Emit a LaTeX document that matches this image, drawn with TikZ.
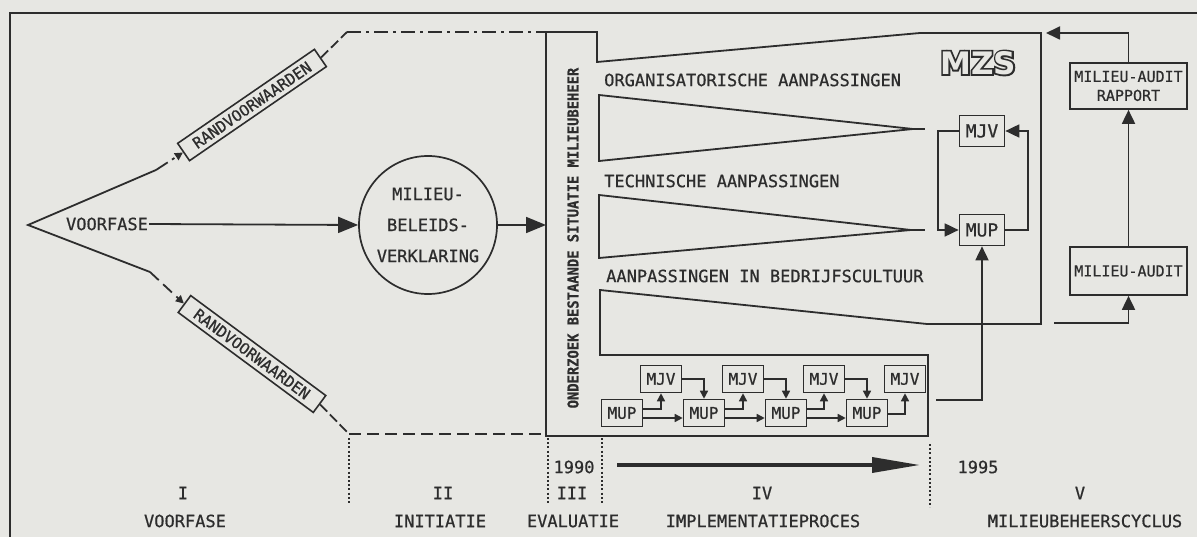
\documentclass[tikz,border=0pt]{standalone}
\usepackage{fontspec}
\setmainfont{DejaVu Sans Mono}[FakeBold=0.7]
\newfontfamily\mzsinner{DejaVu Sans Bold}
\newfontfamily\mzsouter{DejaVu Sans Bold}[FakeBold=11]
\usetikzlibrary{arrows.meta,calc}
\definecolor{bg}{RGB}{231,231,227}
\definecolor{ink}{RGB}{45,45,45}
\begin{document}
\begin{tikzpicture}[x=1pt,y=-1pt,
  ln/.style={draw=ink,line width=1.8pt},
  thinln/.style={draw=ink,line width=1.5pt},
  lbl/.style={text=ink,font=\fontsize{17}{20}\selectfont,inner sep=1pt},
  rbox/.style={draw=ink,line width=1.6pt,text=ink,font=\fontsize{15.5}{18}\selectfont,minimum height=21pt,inner sep=0pt},
  sbox/.style={draw=ink,line width=1.6pt,text=ink,font=\fontsize{16}{18}\selectfont,minimum width=41pt,minimum height=27pt,inner sep=0pt},
  mbox/.style={draw=ink,line width=1.7pt,text=ink,font=\fontsize{18}{20}\selectfont,minimum width=45pt,minimum height=31pt,inner sep=0pt},
  abox/.style={draw=ink,line width=1.7pt,text=ink,font=\fontsize{15}{19}\selectfont,align=center,minimum width=117pt,inner sep=0pt},
  bigtip/.style={-{Triangle[length=20pt,width=16pt]}},
  medtip/.style={-{Triangle[length=14pt,width=13pt]}},
  smtip/.style={-{Triangle[length=8pt,width=8pt]}},
  dotv/.style={draw=ink,line width=2pt,dash pattern=on 2pt off 2.2pt},
  dashdot/.style={dash pattern=on 14pt off 5pt on 3pt off 5pt},
  dashd/.style={dash pattern=on 12pt off 6pt},
]
\useasboundingbox[fill=bg] (0,0) rectangle (1197,537);

% outer border
\draw[ln] (10,537) -- (10,13) -- (1197,13);

% left part
\coordinate (tip) at (28,225);
\coordinate (u1) at (156,170);
\coordinate (l1) at (150,272);
\coordinate (c1) at (347,32);
\coordinate (c2) at (349,434);
\coordinate (vtop) at (546,32);
\coordinate (vbot) at (546,434);
\node[lbl] (vf) at (107,224) {VOORFASE};
\node[rbox,rotate=34.5,minimum width=166pt] (r1) at (252,105) {RANDVOORWAARDEN};
\node[rbox,rotate=-36.5,minimum width=168pt] (r2) at (252,354) {RANDVOORWAARDEN};
\draw[ln,line join=miter] (u1) -- (tip) -- (l1);
\draw[ln,dashdot,smtip] (u1) -- (r1.west);
\draw[ln,dashd,smtip] (l1) -- (r2.west);
\draw[ln,dash pattern=on 10pt off 4pt] (r1.east) -- (c1);
\draw[ln,dashdot] (c1) -- (vtop);
\draw[ln,dash pattern=on 10pt off 4pt] (r2.east) -- (c2);
\draw[ln,dashd] (c2) -- (vbot);

\node[circle,draw=ink,line width=1.7pt,minimum size=138pt,inner sep=0pt,text=ink,align=center,
      font=\fontsize{17}{31}\selectfont] (mbv) at (428,225) {MILIEU-\\BELEIDS-\\VERKLARING};
\draw[ln,bigtip] (vf.east) -- (mbv.west);
\coordinate (vmid) at (546,225);
\draw[ln,bigtip] (mbv.east) -- (vmid);

% MZS frame
\draw[ln,line join=miter] (546,32) -- (597,32) -- (597,62) -- (920,33) -- (1041,33) -- (1041,324)
  -- (927,324) -- (600,290) -- (600,355) -- (928,355) -- (928,436) -- (546,436) -- cycle;
\node[text=ink,font=\bfseries\fontsize{15}{15}\selectfont,rotate=90,inner sep=0pt] (vt) at (573,238)
  {\scalebox{0.92}[1]{ONDERZOEK BESTAANDE SITUATIE MILIEUBEHEER}};

\node[lbl,anchor=west] (org) at (603,80) {ORGANISATORISCHE AANPASSINGEN};
\node[lbl,anchor=west] (tec) at (603,181) {TECHNISCHE AANPASSINGEN};
\node[lbl,anchor=west] (bed) at (605,276) {AANPASSINGEN IN BEDRIJFSCULTUUR};

\draw[ln,line join=miter] (599,95) -- (913,129) -- (599,161) -- cycle;
\draw[ln] (913,129) -- (925,129);
\draw[ln,line join=miter] (599,195) -- (911,230) -- (599,258) -- cycle;
\draw[ln] (911,230) -- (925,230);

% MZS label (outlined)
\node[inner sep=0pt,text=ink,font=\mzsouter\fontsize{31}{31}\selectfont] (mzso) at (978,63) {MZS};
\node[inner sep=0pt,text=bg,font=\mzsinner\fontsize{31}{31}\selectfont] (mzs) at (978,63) {MZS};

\node[mbox] (mjvR) at (982,131) {MJV};
\node[mbox] (mupR) at (982,230) {MUP};
\draw[ln,medtip] (mupR.east) -- ++(23,0) |- (mjvR.east);
\draw[ln,medtip] (mjvR.west) -- ++(-21,0) |- (mupR.west);
\coordinate (ex) at (936,400);
\draw[ln,medtip] (ex) -| (mupR.south);

% audit boxes
\node[abox,minimum height=46pt] (mar) at (1128.5,86) {MILIEU-AUDIT\\RAPPORT};
\node[abox,minimum height=48pt] (ma) at (1128.5,271) {MILIEU-AUDIT};
\draw[ln,medtip] (ma.north) -- (mar.south);
\coordinate (fr) at (1046,33);
\draw[ln,medtip] (mar.north) |- (fr);
\coordinate (fb) at (1054,323);
\draw[ln,medtip] (fb) -| (ma.south);

% chain
\node[sbox] (mup1) at (622,413) {MUP};
\node[sbox] (mjv1) at (661,379) {MJV};
\node[sbox] (mup2) at (704,413) {MUP};
\node[sbox] (mjv2) at (743,379) {MJV};
\node[sbox] (mup3) at (786,413) {MUP};
\node[sbox] (mjv3) at (824,379) {MJV};
\node[sbox] (mup4) at (867,413) {MUP};
\node[sbox] (mjv4) at (905,379) {MJV};
\foreach \i/\j in {1/2,2/3,3/4}{
  \draw[thinln,smtip] ([yshift=4pt]mup\i.east) -| (mjv\i.south);
  \draw[thinln,smtip] ([yshift=-5pt]mup\i.east) -- ([yshift=-5pt]mup\j.west);
  \draw[thinln,smtip] (mjv\i.east) -| (mup\j.north);
}
\draw[thinln,smtip] ([yshift=-1pt]mup4.east) -| (mjv4.south);

% time axis
\coordinate (la) at (617,465);
\coordinate (lb) at (920,465);
\draw[draw=ink,line width=3.5pt,-{Triangle[length=48pt,width=15pt]}] (la) -- (lb);
\node[lbl] (y90) at (574,467) {1990};
\node[lbl] (y95) at (978,467) {1995};

\draw[dotv] (349,438) -- (349,503);
\draw[dotv] (548,438) -- (548,503);
\draw[dotv] (602,438) -- (602,503);
\draw[dotv] (930,444) -- (930,507);

\node[lbl] (p1) at (183,493) {I};
\node[lbl] (n1) at (185,521) {VOORFASE};
\node[lbl] (p2) at (443,493) {II};
\node[lbl] (n2) at (440,521) {INITIATIE};
\node[lbl] (p3) at (572,493) {III};
\node[lbl] (n3) at (573,521) {EVALUATIE};
\node[lbl] (p4) at (762,493) {IV};
\node[lbl] (n4) at (763,521) {IMPLEMENTATIEPROCES};
\node[lbl] (p5) at (1080,493) {V};
\node[lbl] (n5) at (1085,521) {MILIEUBEHEERSCYCLUS};
\end{tikzpicture}
\end{document}
